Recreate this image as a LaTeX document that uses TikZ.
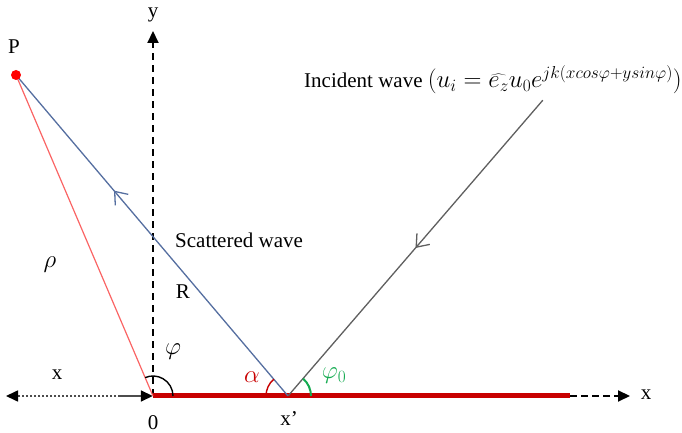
\documentclass[tikz,border=0pt]{standalone}
\usepackage{fontspec}
\setmainfont{Liberation Serif}
\usetikzlibrary{arrows.meta,decorations.markings}
\definecolor{scatblue}{RGB}{85,110,160}
\definecolor{rholine}{RGB}{250,100,100}
\definecolor{axred}{RGB}{200,0,0}
\definecolor{incgray}{RGB}{95,95,95}
\definecolor{phigreen}{RGB}{20,170,80}
\tikzset{
  lbl/.style={font=\fontsize{21}{24}\selectfont, inner sep=0pt},
  pt/.style={inner sep=0pt, minimum size=0pt},
  midarrow/.style={postaction={decorate}, decoration={markings, mark=at position #1 with {\arrow{Straight Barb[length=11pt,width=17pt,line width=1.3pt]}}}},
  axtip/.style={-{Triangle[length=12pt,width=11pt,color=black]}},
}
\begin{document}
\begin{tikzpicture}[x=1pt,y=1pt]
\useasboundingbox (0,0) rectangle (682,433);
% points
\node[pt] (O) at (153,37) {};
\node[pt] (X1) at (288,37) {};
\node[pt] (Pt) at (16,358) {};
\node[pt] (I) at (543,333) {};
\coordinate (Ytop) at (153,402);
\coordinate (Rend) at (570,37);
\coordinate (Xend) at (630,37);
\coordinate (Lend) at (6,37);
% axes
\draw[line width=2pt, dash pattern=on 7pt off 5pt, axtip] (O) -- (Ytop);
\draw[gray!60!black, line width=1.6pt, dash pattern=on 2pt off 2pt, axtip] (148,37) -- (Lend);
\draw[gray!60!black, line width=1.6pt, dash pattern=on 2pt off 2pt, axtip] (120,37) -- (O);
\draw[line width=2pt, dash pattern=on 7pt off 4pt, axtip] (Rend) -- (Xend);
\draw[axred, line width=5pt] (O) -- (Rend);
% lines
\draw[rholine, line width=1.2pt] (O) -- (Pt);
\draw[scatblue, line width=1.3pt, midarrow=0.64] (X1) -- (Pt);
\draw[incgray, line width=1.3pt, midarrow=0.5] (I) -- (X1);
\fill[red] (Pt) circle (5pt);
% angles
\draw[black, line width=1.4pt] ([shift={(0:20)}]O.center) arc (0:113:20);
\draw[axred, line width=1.4pt] ([shift={(130:22)}]X1.center) arc (130:180:22);
\draw[phigreen, line width=2pt] ([shift={(0:23)}]X1.center) arc (0:49:23);
% labels
\node[lbl] (ylab) at (153,418) {y};
\node[lbl] (xlab) at (646,38) {x};
\node[lbl] (xl2) at (57,58) {x};
\node[lbl] (zero) at (153,10) {0};
\node[lbl] (xp) at (289,14) {x’};
\node[lbl] (plab) at (14,386) {P};
\node[lbl, font=\fontsize{27}{30}\selectfont] (rho) at (50,168) {$\rho$};
\node[lbl] (Rl) at (183,141) {R};
\node[lbl, anchor=west] (sw) at (175,193) {Scattered wave};
\node[lbl, font=\fontsize{28}{30}\selectfont] (phil) at (173,81) {$\varphi$};
\node[lbl, text=axred, font=\fontsize{28}{30}\selectfont] (al) at (252,56) {$\alpha$};
\node[lbl, text=phigreen, font=\fontsize{24}{26}\selectfont] (p0) at (334,57) {$\varphi_0$};
\node[lbl, anchor=west] (inc) at (304,353) {Incident wave {\fontsize{25}{28}\selectfont$\bigl(u_i=\widehat{e_z}u_0e^{jk(xcos\varphi+ysin\varphi)}\bigr)$}};
\end{tikzpicture}
\end{document}
